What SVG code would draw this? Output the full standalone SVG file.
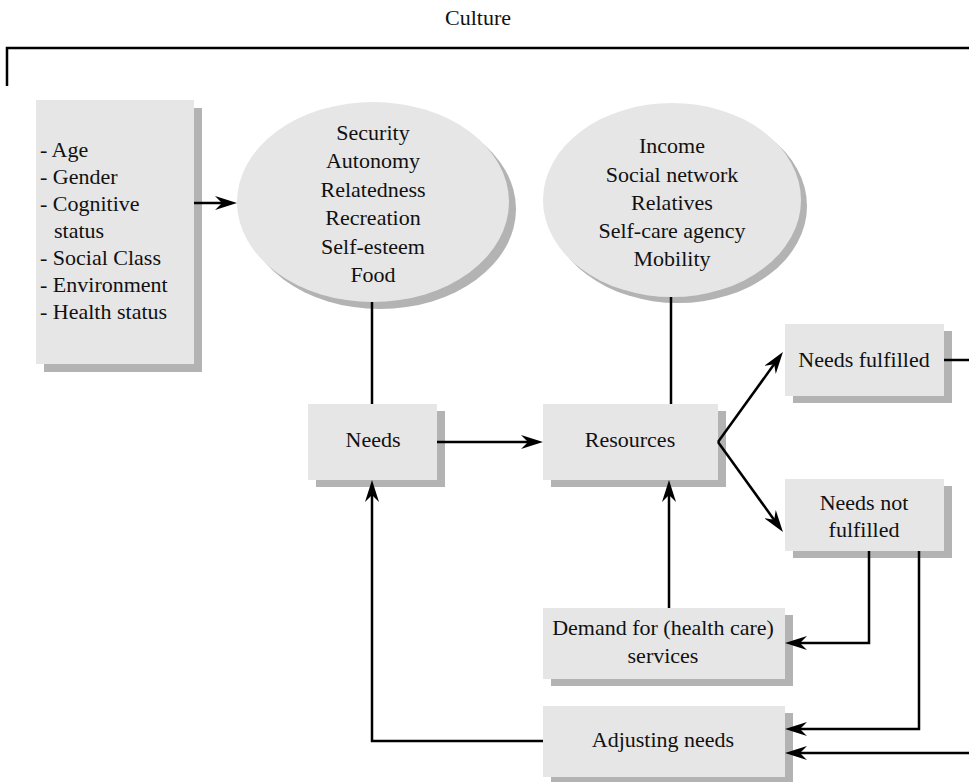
<svg xmlns="http://www.w3.org/2000/svg" width="969" height="782" viewBox="0 0 969 782">
<defs>
<style>
text{font-family:"Liberation Serif","Times New Roman",serif;font-size:22px;fill:#111}
.c{text-anchor:middle}
.box{fill:#e6e6e6}
.sh{fill:#b3b3b3}
.ln{fill:none;stroke:#000;stroke-width:2.5}
</style>
<marker id="ah" viewBox="-22 -7 22 14" markerWidth="22" markerHeight="14" refX="-10" refY="0" orient="auto" markerUnits="userSpaceOnUse">
<path d="M0,0 L-22,-7 L-15,0 L-22,7 Z" fill="#000"/>
</marker>
</defs>
<rect width="969" height="782" fill="#fff"/>
<g id="culture">
<text class="c" x="478" y="25">Culture</text>
<path class="ln" d="M7,86 V48 H969"/>
</g>
<g id="factors">
<rect class="sh" x="44" y="108" width="158" height="264"/>
<rect class="box" x="36" y="100" width="158" height="264"/>
<text x="40" y="157">- Age</text>
<text x="40" y="184">- Gender</text>
<text x="40" y="211">- Cognitive</text>
<text x="54" y="238">status</text>
<text x="40" y="265">- Social Class</text>
<text x="40" y="292">- Environment</text>
<text x="40" y="319">- Health status</text>
</g>
<g id="needs-list">
<ellipse class="sh" cx="380" cy="209" rx="136" ry="100"/>
<ellipse class="box" cx="373" cy="202" rx="136" ry="100"/>
<text class="c" x="373" y="140">Security</text>
<text class="c" x="373" y="168">Autonomy</text>
<text class="c" x="373" y="197">Relatedness</text>
<text class="c" x="373" y="225">Recreation</text>
<text class="c" x="373" y="254">Self-esteem</text>
<text class="c" x="373" y="282">Food</text>
</g>
<g id="resources-list">
<ellipse class="sh" cx="678" cy="206" rx="129" ry="97"/>
<ellipse class="box" cx="672" cy="200" rx="129" ry="97"/>
<text class="c" x="672" y="153">Income</text>
<text class="c" x="672" y="182">Social network</text>
<text class="c" x="672" y="210">Relatives</text>
<text class="c" x="672" y="238">Self-care agency</text>
<text class="c" x="672" y="266">Mobility</text>
</g>
<g id="needs">
<rect class="sh" x="316" y="411" width="129" height="76"/>
<rect class="box" x="308" y="404" width="129" height="76"/>
<text class="c" x="373" y="447">Needs</text>
</g>
<g id="resources">
<rect class="sh" x="551" y="411" width="175" height="76"/>
<rect class="box" x="543" y="404" width="175" height="76"/>
<text class="c" x="630" y="447">Resources</text>
</g>
<g id="fulfilled">
<rect class="sh" x="793" y="331" width="159" height="72"/>
<rect class="box" x="785" y="324" width="159" height="72"/>
<text class="c" x="864" y="367">Needs fulfilled</text>
</g>
<g id="not-fulfilled">
<rect class="sh" x="793" y="486" width="159" height="72"/>
<rect class="box" x="785" y="479" width="159" height="72"/>
<text class="c" x="864" y="510">Needs not</text>
<text class="c" x="864" y="537">fulfilled</text>
</g>
<g id="demand">
<rect class="sh" x="551" y="615" width="242" height="71"/>
<rect class="box" x="543" y="608" width="242" height="71"/>
<text class="c" x="663" y="635">Demand for (health care)</text>
<text class="c" x="663" y="663">services</text>
</g>
<g id="adjusting">
<rect class="sh" x="551" y="713" width="242" height="71"/>
<rect class="box" x="543" y="706" width="242" height="71"/>
<text class="c" x="663" y="747">Adjusting needs</text>
</g>
<g id="connectors">
<path class="ln" d="M194,203 H227" marker-end="url(#ah)"/>
<path class="ln" d="M372,302 V404"/>
<path class="ln" d="M671,297 V404"/>
<path class="ln" d="M437,442 H533" marker-end="url(#ah)"/>
<path class="ln" d="M718,442 L777.1,360.1" marker-end="url(#ah)"/>
<path class="ln" d="M718,442 L777.1,523.9" marker-end="url(#ah)"/>
<path class="ln" d="M944,360 H969"/>
<path class="ln" d="M669,608 V490" marker-end="url(#ah)"/>
<path class="ln" d="M869,551 V643 H795" marker-end="url(#ah)"/>
<path class="ln" d="M919,551 V729 H795" marker-end="url(#ah)"/>
<path class="ln" d="M969,753 H795" marker-end="url(#ah)"/>
<path class="ln" d="M543,741 H372 V490" marker-end="url(#ah)"/>
</g>
</svg>
